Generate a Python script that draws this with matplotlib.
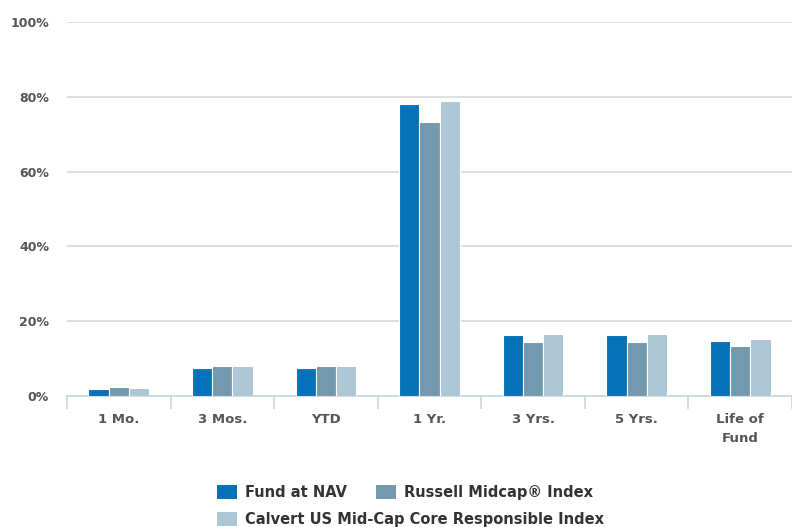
import matplotlib
matplotlib.use("Agg")
import matplotlib.pyplot as plt
import numpy as np
from matplotlib.patches import Patch

categories = ["1 Mo.", "3 Mos.", "YTD", "1 Yr.", "3 Yrs.", "5 Yrs.", "Life of\nFund"]
fund = [2.0, 7.6, 7.6, 78.0, 16.3, 16.3, 14.8]
russell = [2.4, 7.9, 7.9, 73.3, 14.4, 14.4, 13.4]
calvert = [2.1, 7.9, 7.9, 78.8, 16.6, 16.6, 15.2]
series_names = ["Fund at NAV", "Russell Midcap\u00ae Index", "Calvert US Mid-Cap Core Responsible Index"]
colors = ["#0571b7", "#7498ae", "#adc6d3"]
yticks = [0, 20, 40, 60, 80, 100]

fig = plt.figure(figsize=(7.92, 5.27), dpi=100)
ax = fig.add_axes([67/792, 1-396/527, 1-67/792, (396-22)/527])

x = np.arange(len(categories))
w = 0.195
for i, (vals, c) in enumerate(zip([fund, russell, calvert], colors)):
    ax.bar(x + (i-1)*w, vals, width=w, color=c, edgecolor="white", linewidth=0.8, zorder=3)

ax.set_xlim(-0.5, len(categories)-0.5)
ax.set_ylim(0, 100)
ax.set_yticks(yticks)
ax.set_yticklabels([f"{v}%" for v in yticks], fontsize=9, fontweight="bold", color="#555555")
ax.yaxis.grid(True, color="#d9d9d9", linewidth=1.2, zorder=0)
ax.tick_params(axis="y", length=0, pad=13)

ax.set_xticks(x)
ax.set_xticklabels(categories, fontsize=9.5, fontweight="bold", color="#555555", linespacing=1.6, va="top")
ax.tick_params(axis="x", which="major", length=0, pad=12)
ax.set_xticks(np.arange(-0.5, len(categories)), minor=True)
ax.tick_params(axis="x", which="minor", length=9, color="#c8d6e5", width=1.2)

for s in ["top", "right", "left"]:
    ax.spines[s].set_visible(False)
ax.spines["bottom"].set_color("#c8d6e5")
ax.spines["bottom"].set_linewidth(1.2)

leg_kw = dict(loc="upper left", frameon=False,
              prop={"size": 10.5, "weight": "bold"}, handlelength=1.35, handleheight=1.1,
              handletextpad=0.55, columnspacing=2.0, borderpad=0, borderaxespad=0)
h1 = [Patch(facecolor=colors[i], edgecolor="none") for i in (0, 1)]
leg1 = fig.legend(h1, [series_names[0], series_names[1]], ncol=2,
                  bbox_to_anchor=(217/792, 1-485/527), **leg_kw)
h2 = [Patch(facecolor=colors[2], edgecolor="none")]
leg2 = fig.legend(h2, [series_names[2]], ncol=1,
                  bbox_to_anchor=(217/792, 1-512/527), **leg_kw)
for lg in (leg1, leg2):
    for t in lg.get_texts():
        t.set_color("#333333")

fig.savefig("out.png", dpi=100)
